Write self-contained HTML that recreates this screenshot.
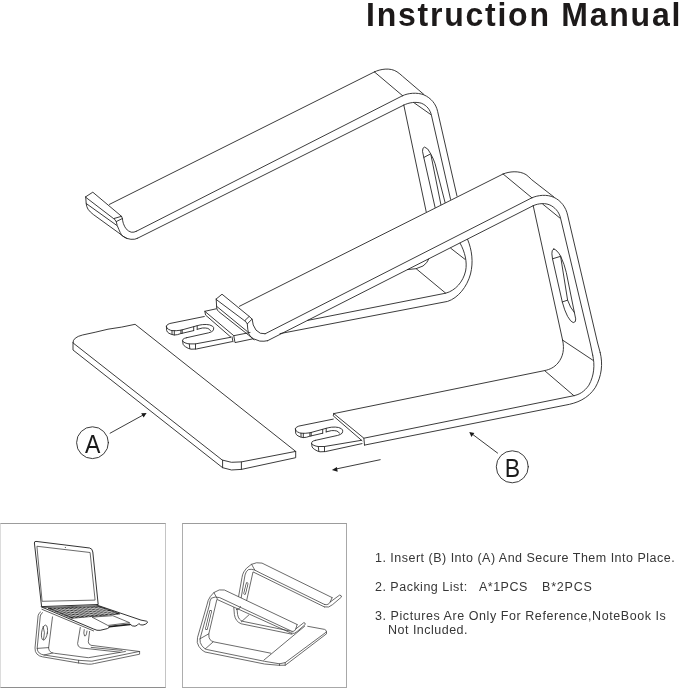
<!DOCTYPE html>
<html>
<head>
<meta charset="utf-8">
<title>Instruction Manual</title>
<style>
  html, body { margin: 0; padding: 0; background: #ffffff; }
  body { width: 679px; height: 689px; position: relative; overflow: hidden;
         font-family: "Liberation Sans", sans-serif; color: #231f20; }
  #title { position: absolute; left: 365.8px; top: -4.4px; font-size: 32px; font-weight: bold;
           letter-spacing: 1.76px; white-space: nowrap; line-height: 37px; color: #1d1a1a;
           transform: scaleY(1.035); transform-origin: 0 0; }
  .t { position: absolute; font-size: 12.5px; letter-spacing: 0.49px; white-space: nowrap;
       line-height: 14px; color: #363636; }
  svg { position: absolute; left: 0; top: 0; will-change: transform; }
  #title, .t { will-change: transform; }
  .box { position: absolute; border-style: solid; box-sizing: border-box; }
</style>
</head>
<body>
<div id="title">Instruction Manual</div>

<div class="box" style="left:0px; top:522.6px; width:166px; height:165.4px; border-color:#9c9c9c #c4c4c4 #8e8e8e #dcdcdc; border-width:1.3px 1.6px 1.2px 1.6px;"></div>
<div class="box" style="left:181.8px; top:522.6px; width:165.4px; height:165.4px; border-color:#9c9c9c #a8a8a8 #a8a8a8 #adadad; border-width:1.3px 1.3px 1.2px 1.3px;"></div>

<div class="t" style="left:375px; top:551px;">1. Insert (B) Into (A) And Secure Them Into Place.</div>
<div class="t" style="left:375px; top:580px;">2. Packing List:</div>
<div class="t" style="left:479.2px; top:580px;">A*1PCS</div>
<div class="t" style="left:541.9px; top:580px; letter-spacing:0.8px;">B*2PCS</div>
<div class="t" style="left:375px; top:609px; letter-spacing:0.565px;">3. Pictures Are Only For Reference,NoteBook Is</div>
<div class="t" style="left:388px; top:623px;">Not Included.</div>

<svg id="main" width="679" height="689" viewBox="0 0 679 689"
     fill="none" stroke="#262626" stroke-width="0.9" stroke-linecap="round" stroke-linejoin="round">

<!-- ================= STAND 1 (back) ================= -->
<g id="stand1">
  <!-- lip -->
  <path d="M85.7 196.8 L92.8 192.2 L121.5 216.3 L114 218.5 Z"/>
  <path d="M114 218.5 L116.2 221.6 L122.4 218.5 L121.5 216.3"/>
  <path d="M85.7 196.8 L86.2 203.5 Q86.6 207 88 209.2 Q90 212 93.3 214.5 L118.9 233 Q122.5 236.6 126.8 238.4 Q131 239.8 134.8 239.2 L137.6 238.2"/>
  <path d="M86.2 203.5 L116.6 225.3"/>
  <path d="M116.2 221.6 Q117 226 118.9 229.5 Q120 232.5 121.5 234.8 Q123.5 237 126.8 238.4"/>
  <path d="M122.4 218.5 Q122.6 221 123.3 223.3 Q124.4 226.4 125.9 228.6 Q128.4 231.4 131.2 232.2 Q134 232.6 136.3 231.3"/>
  <!-- upper arm -->
  <path d="M109.4 204.4 L374.4 71.9"/>
  <path d="M136.3 231.3 L402.6 95.7"/>
  <path d="M137.6 238.2 L403.8 105.1"/>
  <!-- top bend -->
  <path d="M374.4 71.9 C380 69.2 390 67.2 397 71.8 Q400 73.8 402.6 76.3 L423.8 94.4"/>
  <path d="M374.4 71.9 L402.6 95.7"/>
  <path d="M402.6 95.7 C408 93 417 92.2 423.8 94.8 C431 98 436 104 437.6 111.3 L457.0 196.1"/>
  <path d="M403.8 105.1 C409 102.4 416 101.6 421.3 103.2 C427 105.5 430.2 110 431.4 115.1 L450.6 199.4"/>
  <path d="M413.8 102.6 L430.7 114.5"/>
  <path d="M403.8 105.1 L426.2 211.7"/>
  <!-- slot -->
  <path d="M435.1 207.5 L423.8 157.5 L422.5 151.3 Q422.3 147.4 424.6 147.1 Q427.8 147.6 430.7 153.8 Q433.8 159.5 435.1 163.8 L445.1 202.6"/>
  <path d="M423.8 157.5 L430.7 153.8"/>
  <path d="M431.0 155.2 L440.9 204.6"/>
  <!-- bottom bend visible under stand 2 arm -->
  <path d="M467.6 239.4 C472 250 473.5 262 470.5 274 C467 287 458 298 447.6 301.4 L280 333.6"/>
  <path d="M460.1 243.2 C465 252 467.4 262 465.6 271 C463 282 455.5 290.5 445.7 293.2 L307.6 320.4"/>
  <path d="M450.7 248.2 L465.1 259.4"/>
  <path d="M416.3 268.8 L445.7 293.2"/>
  <path d="M407.5 269.6 Q417 269.6 423 266 Q427.4 263 428.8 259.0"/>
  <!-- tab + fork -->
  <path d="M216.3 308.8 L204.8 311.3 L233.8 335.7 L250 332.5"/>
  <path d="M204.8 311.3 L205.6 315.1 L230.7 337"/>
  <path d="M233.8 335.7 L235 342.6 L252.6 338.9"/>
  <path d="M232 336.8 L233 341.8"/>
  <!-- upper prong -->
  <path d="M204.3 316.5 L169.8 323.5 Q166.9 324.3 166.4 326.2 Q166.3 328.0 168.5 329.3 Q170.8 330.5 172.0 330.6 Q176.0 331.0 180.9 330.2 L197.2 325.7 Q200.0 324.9 202.5 324.6 Q206.5 324.2 209.6 324.9 Q213.2 326.0 213.6 327.5 Q213.9 329.2 213.1 330.6 Q211.6 332.1 208.7 332.8 L186.6 337.7"/>
  <path d="M166.4 326.2 L166.7 330.6 Q167.2 332.3 169.0 333.3 Q171.6 334.7 174.3 335.0 Q177.4 335.0 180.4 333.7 L193.7 330.6"/>
  <path d="M172.0 330.6 V334.3 M174.3 330.8 V335.0 M180.9 330.2 V333.6 M182.2 329.9 V333.2 M193.7 326.8 V330.6 M197.2 325.7 V329.3"/>
  <path d="M197.2 329.3 L202.5 328.0 Q205.5 327.8 207.8 328.4 Q209.8 329.2 210.5 330.6"/>
  <!-- lower prong -->
  <path d="M186.6 337.7 Q183.6 338.4 183.1 339.2 Q182.5 340.0 182.6 340.8 Q183.0 342.0 185.0 342.8 Q187.0 343.7 189.3 343.9 L195.5 343.9 L230.7 337.3"/>
  <path d="M182.6 340.8 L183.1 344.3 Q183.8 345.8 185.7 346.9 Q188.0 348.6 191.0 349.2 L196.3 349.0 L232.2 341.6"/>
  <path d="M189.3 343.9 L189.8 348.6 M195.5 343.9 V349.0"/>
</g>

<!-- ================= STAND 2 (front) ================= -->
<g id="stand2">
  <!-- lip -->
  <path d="M216.2 299 L222 294.2 L249.2 316.4 L244.9 320.5 Z"/>
  <path d="M244.9 320.5 L247.3 323.9 L252.1 319.1 L249.2 316.4"/>
  <path d="M216.2 299 L216.7 308.1 Q217.2 310.4 218.6 311.5 L248.3 334.9 Q253 339.6 259.8 341.1 Q264 341.6 267.6 340.7"/>
  <path d="M216.6 306.3 L247.4 331.6"/>
  <path d="M247.3 323.9 Q247.6 330 248.6 333.4 Q250 337.4 254 339.8"/>
  <path d="M252.1 319.1 Q252.4 325.5 256 330.1 Q260 334.6 265.1 333.8"/>
  <!-- upper arm -->
  <path d="M239.4 306.3 L503.1 174"/>
  <path d="M265.1 333.8 L531.9 197.8"/>
  <path d="M267.6 340.7 L533.2 205.7"/>
  <!-- top bend -->
  <path d="M503.1 174 C509 171.4 519 170.4 526 174.6 Q529 176.8 531.3 179.4 L553.8 196.9"/>
  <path d="M503.1 174 L531.9 197.8"/>
  <path d="M531.9 197.8 C538 195 547 194.2 553.8 197.3 C561 200.6 566 207.4 567.6 215.1 L597.6 343 L600.2 352.6"/>
  <path d="M533.2 205.7 C538.5 203.2 546 202.6 551.3 205.7 C556.6 208.8 559.6 213.4 560.7 218.8 L590.4 344 L592.7 355.1"/>
  <path d="M542.6 204 L560.1 218.2"/>
  <path d="M533.2 205.7 L562.6 340.1"/>
  <!-- slot -->
  <path d="M553.8 249 Q551.4 249.6 551.9 253.8 L552.5 258.8 L562.3 302 Q564.5 310.5 567.6 316.4 Q570.8 322 573.2 322.6 Q576.2 322.4 575.7 318.9 L574.4 312.6 L566.3 272.5 Q564.5 264.5 560.7 256.3 Q557 249.6 553.8 249 Z"/>
  <path d="M552.5 258.8 L560.7 256.3"/>
  <path d="M560.7 256.9 L567.6 300.1 Q570 307.6 574.4 312.6"/>
  <path d="M562.3 302 L567.6 300.1"/>
  <!-- bottom bend -->
  <path d="M600.2 352.6 C603 364 601.8 376 595.2 387.7 C588 398.6 577 403.2 565.1 405.2 L364.5 445.1"/>
  <path d="M592.7 355.1 C595 365 594.2 375.5 588.9 385.2 C584 392 579.5 394.4 573.9 395.7 L363.9 438.2"/>
  <path d="M562.6 340.1 C564.6 349 563.2 356.6 558 363 C554 367.6 550 369.4 544.6 370.6 L333.8 413.6"/>
  <path d="M562.6 340.1 L592.7 360.1"/>
  <path d="M544.6 370.6 L573.9 395.7"/>
  <!-- arm left end -->
  <path d="M333.8 413.6 L363.9 438.2 L364.5 445.1"/>
  <path d="M333.8 413.6 L333.2 415.8 L362 440.7"/>
  <!-- fork: upper prong -->
  <path d="M333.3 419.1 L298.8 426.1 Q295.9 426.9 295.4 428.8 Q295.3 430.6 297.5 431.9 Q299.8 433.1 301 433.2 Q305 433.6 309.9 432.8 L326.2 428.3 Q329 427.5 331.5 427.2 Q335.5 426.8 338.6 427.5 Q342.2 428.6 342.6 430.1 Q342.9 431.8 342.1 433.2 Q340.6 434.7 337.7 435.4 L315.6 440.3"/>
  <path d="M295.4 428.8 L295.7 433.2 Q296.2 434.9 298 435.9 Q300.6 437.3 303.3 437.6 Q306.4 437.6 309.4 436.3 L322.7 433.2"/>
  <path d="M301 433.2 V436.9 M303.3 433.4 V437.6 M309.9 432.8 V436.2 M311.2 432.5 V435.8 M322.7 429.4 V433.2 M326.2 428.3 V431.9"/>
  <path d="M326.2 431.9 L331.5 430.6 Q334.5 430.4 336.8 431 Q338.8 431.8 339.5 433.2"/>
  <!-- lower prong -->
  <path d="M315.6 440.3 Q312.6 441 312.1 441.8 Q311.5 442.6 311.6 443.4 Q312 444.6 314 445.4 Q316 446.3 318.3 446.5 L324.5 446.5 L361.4 440.3"/>
  <path d="M311.6 443.4 L312.1 446.9 Q312.8 448.4 314.7 449.5 Q317 451.2 320 451.8 L325.3 451.6 L362 443.6"/>
  <path d="M318.3 446.5 L318.8 451.2 M324.5 446.5 V451.6"/>
</g>

<!-- ================= PLATE A ================= -->
<g id="plateA">
  <path d="M73 342.5 Q72.8 337.4 82.5 335 Q95 332.4 108 329.2 Q122 327.4 135.1 324.3 L295.7 451.4 L241.4 461.9 Q231 463.6 222.6 460.2 Z"/>
  <path d="M73 342.5 V350 L222.6 467.7 Q231 471.4 241.4 469.4 L295.7 457.7 V451.4"/>
  <path d="M222.6 460.2 V467.7 M241.4 461.9 V469.4"/>
</g>


<!-- ================= THUMBNAIL 1 : laptop on stand ================= -->
<g id="thumb1" stroke="#3a3a3a" stroke-width="0.75">
  <!-- screen -->
  <path d="M35.6 541.4 Q34.2 541.4 34.4 543 L41.6 606.6 L98.2 604.5 L92.8 552 Q92.4 548.6 90.1 548.1 Z" stroke="#1c1c1c" stroke-width="0.9"/>
  <path d="M37.3 546.3 L90.1 552.5 L95.1 600.1 L42.5 601.3 Z"/>
  <circle cx="65.3" cy="547.4" r="0.5" fill="#222" stroke="none"/>
  <!-- laptop base -->
  <path d="M41.2 606.8 L93.3 628.9 Q97.2 630.9 100.2 630.3 L107.4 628.6 Q109.6 627.8 109.2 626.3 L130 624 Q132 626.6 135 626.2 Q137.6 625.6 138.8 623.6 Q140.5 625.4 143 625 Q146 624.4 147.4 622.6 Q147.8 621.6 146.6 621.2 L141 620.1 L96.9 605.1" stroke="#1c1c1c" stroke-width="0.9"/>
  <path d="M41.9 609.3 L93.6 630.9" stroke="#2a2a2a" stroke-width="0.75"/>
  <path d="M109.2 626.9 L130.2 624.6" stroke="#1c1c1c" stroke-width="1.2"/>
  <path d="M42.6 607.6 L97.4 605.6"/>
  <!-- keyboard -->
  <clipPath id="kb"><path d="M48.3 608.3 L99.5 606.5 L119.8 613.9 L72.1 618.3 Z"/></clipPath>
  <path d="M48.3 608.3 L99.5 606.5 L119.8 613.9 L72.1 618.3 Z" fill="#0c0c0c" stroke="#0c0c0c" stroke-width="0.6"/>
  <g clip-path="url(#kb)">
  <g stroke="#ffffff" stroke-width="0.5">
    <path d="M52.6 610.2 L103.6 608.1"/>
    <path d="M57.2 612.2 L107.8 609.7"/>
    <path d="M62.0 614.2 L112.2 611.3"/>
    <path d="M66.8 616.2 L116.2 612.7"/>
  </g>
  <g stroke="#ffffff" stroke-width="0.6">
    <path d="M51.6 608.0 L75.9 618.2 M55.2 607.8 L79.3 617.9 M58.9 607.7 L82.7 617.6 M62.5 607.6 L86.1 617.2 M66.2 607.5 L89.5 616.9 M69.8 607.3 L92.9 616.6 M73.5 607.2 L96.3 616.3 M77.2 607.1 L99.8 616.0 M80.8 606.9 L103.2 615.7 M84.5 606.8 L106.6 615.4 M88.1 606.7 L110.0 615.0 M91.8 606.6 L113.4 614.7 M95.4 606.4 L116.8 614.4"/>
  </g>
  </g>
  <!-- trackpad -->
  <path d="M92.4 617.1 L112.8 615.7 L129.6 622.7 L108.3 625.4 Z"/>
  <!-- front (left) stand -->
  <path d="M40.6 611.9 Q38.4 613.2 38.1 615.7 L35 648 Q34.8 652 37.1 654.2 Q39.4 656.4 42.4 656.8 L78.6 663 L88.3 664.2 Q91.6 664.4 94.5 663.5 L139.6 654.2 V651.5"/>
  <path d="M42.6 612.6 Q40.6 613.8 40.3 616 L37.2 648 Q37.2 651.4 39.2 653 Q41.2 654.6 44.1 655 L78.6 660.3 L91.9 661.2 L138.6 651.6"/>
  <path d="M52.5 616.9 L48.6 648 Q48.6 651 51.2 652.4 Q52.6 653 54.5 653.3 L88.3 657.7 L125.4 651.5"/>
  <path d="M37.2 648.4 L48.6 647.6 M44.1 655 L52.6 653"/>
  <path d="M78.6 660.3 V663"/>
  <ellipse cx="44.5" cy="632.6" rx="2.9" ry="7.6" transform="rotate(9 44.5 632.6)"/>
  <path d="M43.2 626.4 Q45.6 632.6 43.6 639.4"/>
  <!-- rear stand -->
  <path d="M80.3 627.4 L77.6 643.6 Q77.5 646.6 80.8 647.9 L120 652.2"/>
  <path d="M89.6 631.4 L88.3 641.8 Q88.3 644.2 91 645.3 L139.6 651.5"/>
  <path d="M84.2 629.6 Q83.2 633.6 84.6 636 Q86.4 636.6 87 631"/>
  <path d="M91.2 647.4 L122 650.4"/>
</g>

<!-- ================= THUMBNAIL 2 : assembled stand ================= -->
<g id="thumb2" stroke="#3a3a3a" stroke-width="0.75">
  <!-- back stand -->
  <path d="M332.1 597.6 L262 563.1 Q256.4 561.8 251.3 564.4 Q245.4 568.4 243.8 571.9 Q242.2 575 242 577.5 L238.6 596.4"/>
  <path d="M324.6 604.5 L262 573.8 L254.6 570 Q251 568.8 248.4 569.6 Q245.8 571.4 245 575 L241.2 597.6"/>
  <path d="M324.6 607 L262 576.3 L253 571.9 L246.7 600.3"/>
  <path d="M251.6 564.3 L254.8 570.1"/>
  <path d="M247.1 583.6 L244.7 593.4" stroke-width="2.5"/>
  <path d="M247.1 583.6 L244.7 593.4" stroke="#ffffff" stroke-width="1.2"/>
  <!-- back stand lip -->
  <path d="M332.1 597.6 L330.2 602 L339.6 595.1 Q341.6 595.2 341.5 597 L332.6 604.6 Q329 608.2 324.6 607"/>
  <path d="M324.6 604.5 Q328.6 605.6 330.2 602"/>
  <!-- back stand lower bend -->
  <path d="M233.8 607.5 L234.4 614.6 Q235.4 621.6 241.3 623.8 L292 634.2"/>
  <path d="M237 609 L237.6 614.6 Q238.6 620 242.6 621.3 L290 631"/>
  <path d="M241.3 621.9 L248.8 615"/>
  <path d="M236.4 609.6 Q240 609.4 240.6 606.6"/>
  <!-- front stand -->
  <path d="M297.1 624.5 L224.4 590 Q219.4 588.6 213.8 592.6 Q209.6 596.6 208.2 600.4 L206.9 605.1 L197.5 637.6 Q196.4 643 198.8 646.3 Q201.4 650.4 205 652 L264.5 664 L278.9 665.3 L285.4 665.2 L326.5 633.8 V631.9"/>
  <path d="M292 631.4 L219.6 597.6 Q215 596.2 211.3 598.2 Q209.6 600.6 209.4 605.1 L200 638.8 Q199.6 642.8 201.9 645.7 Q203.6 648.2 206.3 649.4 L264.5 661.3 L279.5 663.8 L285.2 662.6 L326.5 631.9 Q326.2 629.8 324.6 629.4 L307.7 626.3"/>
  <path d="M291.4 633.2 L216.9 599.4 L208.8 633.8 Q208.6 638 210 639.6 Q211.4 641.2 213.8 641.9 L270.8 653.2"/>
  <path d="M213.9 592.6 L217.2 598.6"/>
  <path d="M200 638.8 L208.8 633.8 M205.2 649 L213.1 641.9"/>
  <path d="M210.6 611.3 L206.5 628.7" stroke-width="2.6"/>
  <path d="M210.6 611.3 L206.5 628.7" stroke="#ffffff" stroke-width="1.3"/>
  <!-- front stand lip -->
  <path d="M297.1 624.5 L295.8 628.9 L303.9 622.6 Q305.6 622.8 305.2 624.5 L297 631.6 Q294.4 634.4 291.4 633.2"/>
  <path d="M292 631.4 Q294.8 632 295.8 628.9"/>
  <!-- plate -->
  <path d="M304.6 626.3 L263.9 660.1"/>
  <path d="M285.2 662.6 V665.2 M279.5 663.8 V665.3"/>
</g>

<!-- ================= LABELS / ARROWS ================= -->
<g id="labels">
  <circle cx="92.5" cy="442.7" r="15.9"/>
  <circle cx="512.3" cy="466.8" r="16"/>
  <path d="M110.1 433.2 L143.5 414.8"/>
  <path d="M497.6 453.1 L472 433.9"/>
  <path d="M380.2 459.7 L336 469"/>
  <g fill="#1a1a1a" stroke="none">
    <path d="M146.6 413.1 L141.2 413.3 L143.6 417.6 Z"/>
    <path d="M469.3 431.9 L471.4 436.9 L474.4 433 Z"/>
    <path d="M331.9 470.1 L336.9 466.9 L337.7 471.8 Z"/>
  </g>
</g>
<g font-family="Liberation Sans, sans-serif" font-size="25.6" fill="#1a1a1a" stroke="none" text-anchor="middle">
  <text transform="translate(92.6 452.9) scale(0.9 1)">A</text>
  <text transform="translate(512.4 477.3) scale(0.9 1)">B</text>
</g>
</svg>
</body>
</html>
